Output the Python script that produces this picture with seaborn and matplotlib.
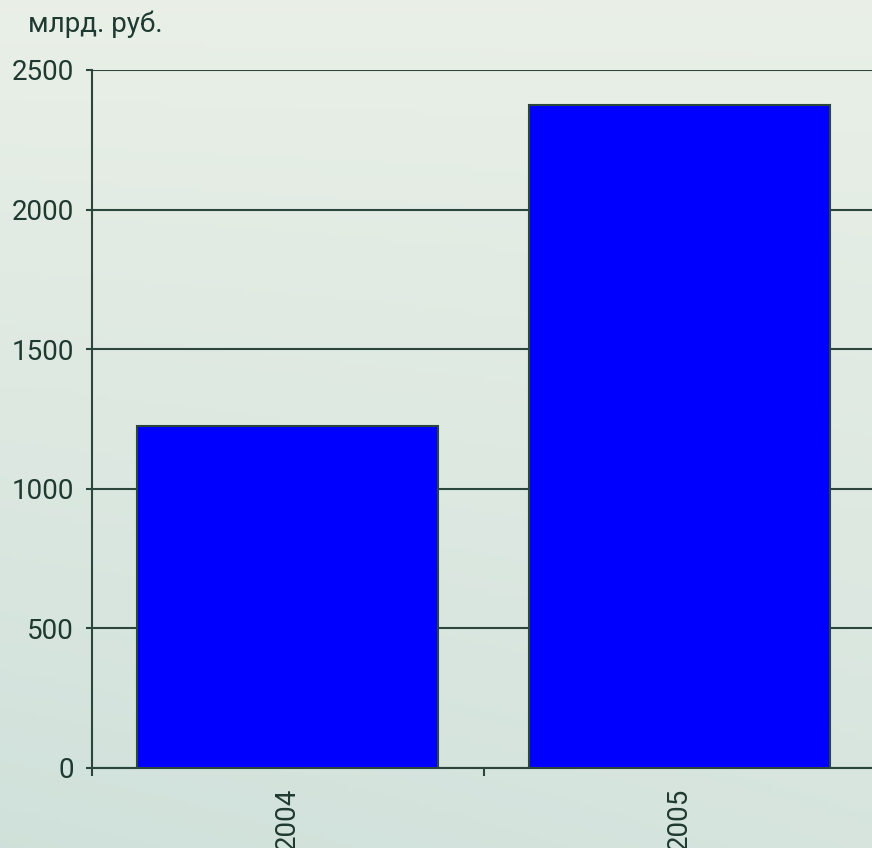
import numpy as np
import pandas as pd
import matplotlib
matplotlib.use("Agg")
import matplotlib.pyplot as plt
from matplotlib.ticker import FixedLocator
import seaborn as sns

# Values in billions of roubles
years = ["2004", "2005"]
values = [1225, 2375]
y_ticks = [0, 500, 1000, 1500, 2000, 2500]
unit_label = "млрд. руб."

sns.set_theme(style="white")
plt.rcParams["font.family"] = ["Roboto", "DejaVu Sans"]

ink = "#1f3a31"
line_col = "#2b463c"

fig = plt.figure(figsize=(8.72, 8.48), dpi=100)

# soft greenish backdrop across the whole figure
bg_ax = fig.add_axes([0, 0, 1, 1], zorder=-10)
h, w = 200, 200
yy, xx = np.mgrid[0:1:h * 1j, 0:1:w * 1j]
top = np.array([0.915, 0.940, 0.905])
bottom = np.array([0.815, 0.882, 0.858])
t = np.clip(0.75 * yy + 0.25 * (1 - xx) * yy, 0, 1)[..., None]
img = top * (1 - t) + bottom * t
bg_ax.imshow(img, aspect="auto", extent=[0, 1, 0, 1], origin="upper")
bg_ax.axis("off")

W, H = 872, 848
x0, x1 = 92, 875
y0, y1 = 768, 70
ax = fig.add_axes([x0 / W, (H - y0) / H, (x1 - x0) / W, (y0 - y1) / H])
ax.patch.set_alpha(0)

df = pd.DataFrame({"year": years, "value": values})
sns.barplot(data=df, x="year", y="value", ax=ax, color="#0000ff", saturation=1,
            width=0.77, edgecolor=line_col, linewidth=1.5, zorder=3)

ax.set_xlim(-0.5, 1.5)
ax.set_ylim(0, 2500)
ax.set_xlabel("")
ax.set_ylabel("")

ax.yaxis.set_major_locator(FixedLocator(y_ticks))
ax.grid(axis="y", color=line_col, linewidth=1.5, zorder=1)
ax.grid(axis="x", visible=False)
ax.set_axisbelow(True)

for side in ["top", "right"]:
    ax.spines[side].set_visible(False)
for side in ["left", "bottom"]:
    ax.spines[side].set_visible(True)
    ax.spines[side].set_color(line_col)
    ax.spines[side].set_linewidth(1.5)

ax.tick_params(axis="y", which="major", direction="out", length=4, width=1.5,
               color=line_col, labelsize=20, labelcolor=ink, pad=9, left=True)
ax.set_yticklabels([str(v) for v in y_ticks])

# category labels sit under the bars, ticks mark the category boundaries
ax.set_xticks([0, 1])
ax.set_xticklabels(years, rotation=90, va="top", ha="center")
ax.tick_params(axis="x", which="major", length=0, labelsize=20, labelcolor=ink, pad=14)
ax.set_xticks([-0.5, 0.5, 1.5], minor=True)
ax.tick_params(axis="x", which="minor", direction="out", length=6, width=1.5,
               color=line_col, bottom=True)

fig.text(28 / W, 1 - 32 / H, unit_label, fontsize=20, color=ink, ha="left", va="baseline")

fig.savefig("out.png", dpi=100)
